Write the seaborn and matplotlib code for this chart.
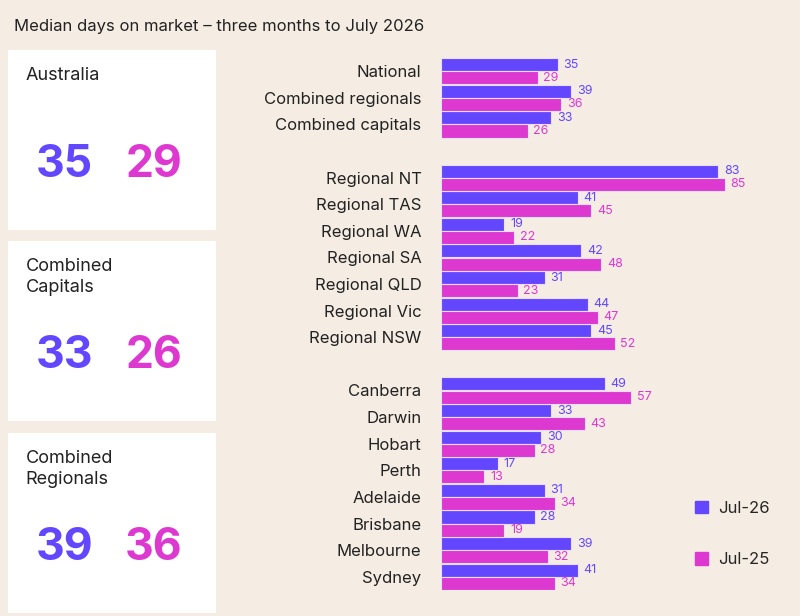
import seaborn as sns
import matplotlib.pyplot as plt
import matplotlib.patches as mpatches
import pandas as pd

categories = ["National", "Combined regionals", "Combined capitals",
              "Regional NT", "Regional TAS", "Regional WA", "Regional SA",
              "Regional QLD", "Regional Vic", "Regional NSW",
              "Canberra", "Darwin", "Hobart", "Perth", "Adelaide",
              "Brisbane", "Melbourne", "Sydney"]
jul26 = [35, 39, 33, 83, 41, 19, 42, 31, 44, 45, 49, 33, 30, 17, 31, 28, 39, 41]
jul25 = [29, 36, 26, 85, 45, 22, 48, 23, 47, 52, 57, 43, 28, 13, 34, 19, 32, 34]
order = categories[:3] + [" "] + categories[3:10] + ["  "] + categories[10:]

panels = ["Australia", "Combined\nCapitals", "Combined\nRegionals"]
panel_26 = [35, 33, 39]
panel_25 = [29, 26, 36]

PURPLE = "#6347FF"
MAGENTA = "#DD38D0"
BG = "#F5EDE3"

df = pd.DataFrame({
    "region": categories * 2,
    "days": jul26 + jul25,
    "period": ["Jul-26"] * len(categories) + ["Jul-25"] * len(categories),
})

sns.set_theme(style="white")
plt.rcParams["font.family"] = ["Inter", "DejaVu Sans"]

fig = plt.figure(figsize=(8, 6.16), dpi=100, facecolor=BG)
fig.text(0.018, 0.957, "Median days on market \u2013 three months to July 2026",
         fontsize=12, color="#222222", va="center")

ax = fig.add_axes([441 / 800, 1 - 590 / 616, 334 / 800, 532 / 616])
ax.set_facecolor(BG)
sns.barplot(data=df, y="region", x="days", hue="period", order=order,
            hue_order=["Jul-26", "Jul-25"], palette=[PURPLE, MAGENTA],
            saturation=1, width=0.98, orient="h", edgecolor="#EBDDF5",
            linewidth=0.8, legend=False, ax=ax)
ax.set_xlim(0, 100)
ax.set_ylim(len(order) - 0.5, -0.5)
for container, color in zip(ax.containers, [PURPLE, MAGENTA]):
    ax.bar_label(container, padding=4, fontsize=9, color=color)
ax.set_xlabel("")
ax.set_ylabel("")
ax.set_xticks([])
ax.tick_params(axis="y", length=0, labelsize=12, pad=14, colors="#222222")
sns.despine(ax=ax, left=True, bottom=True)

handles = [mpatches.Patch(color=PURPLE, label="Jul-26"),
           mpatches.Patch(color=MAGENTA, label="Jul-25")]
fig.legend(handles=handles, loc="center left", bbox_to_anchor=(680 / 800, 1 - 534 / 616),
           frameon=False, fontsize=12, labelspacing=2.2, handlelength=0.8,
           handleheight=0.8, handletextpad=0.6)

tops = [50, 241, 433]
for top, name, v26, v25 in zip(tops, panels, panel_26, panel_25):
    box = fig.add_axes([8 / 800, 1 - (top + 180) / 616, 208 / 800, 180 / 616])
    box.set_facecolor("white")
    box.set_xticks([])
    box.set_yticks([])
    for s in box.spines.values():
        s.set_visible(False)
    box.text(0.085, 0.86 if "\n" not in name else 0.80, name, fontsize=13,
             color="#222222", va="center", transform=box.transAxes, linespacing=1.25)
    box.text(0.27, 0.36, str(v26), fontsize=32, fontweight="bold", color=PURPLE,
             ha="center", va="center", transform=box.transAxes)
    box.text(0.70, 0.36, str(v25), fontsize=32, fontweight="bold", color=MAGENTA,
             ha="center", va="center", transform=box.transAxes)

fig.savefig("out.png", dpi=100, facecolor=BG)
